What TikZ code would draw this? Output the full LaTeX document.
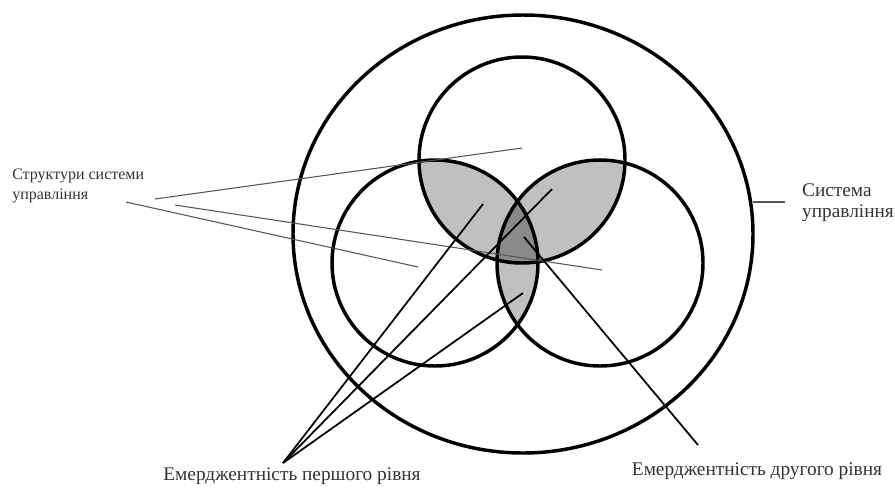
\documentclass[tikz,border=0pt]{standalone}
\usepackage{fontspec}
\setmainfont{Liberation Serif}
\usetikzlibrary{positioning}
\definecolor{linza}{HTML}{C0C0C0}
\definecolor{yadro}{HTML}{8A8A8A}
\definecolor{tonka}{HTML}{555555}
\definecolor{chornyla}{HTML}{333333}
\begin{document}
\begin{tikzpicture}[x=0.75pt,y=-0.75pt,
  kolo/.style={draw=black,line width=2.6pt},
  vyvid/.style={black,line width=1.3pt},
  tonkyi/.style={tonka,line width=0.8pt},
  mala/.style={font=\fontsize{12}{15}\selectfont,text=chornyla,align=left,inner sep=0pt},
  velyka/.style={font=\fontsize{14.5}{16}\selectfont,text=chornyla,align=left,inner sep=0pt}]
\useasboundingbox (0,0) rectangle (895,487);
\coordinate (V) at (522,160);
\coordinate (L) at (435,263);
\coordinate (P) at (600,263);
\begin{scope}
  \clip (V) circle[radius=77.25pt];
  \fill[linza] (L) circle[radius=77.25pt];
  \fill[linza] (P) circle[radius=77.25pt];
\end{scope}
\begin{scope}
  \clip (L) circle[radius=77.25pt];
  \fill[linza] (P) circle[radius=77.25pt];
\end{scope}
\begin{scope}
  \clip (V) circle[radius=77.25pt];
  \clip (L) circle[radius=77.25pt];
  \fill[yadro] (P) circle[radius=77.25pt];
\end{scope}
\draw[kolo] (523,234) ellipse[x radius=172.5pt,y radius=164.25pt];
\foreach \c in {V,L,P}
  \draw[kolo] (\c) circle[radius=77.25pt];
\node[mala,anchor=west] (struktury) at (12,186) {Структури системи\\управління};
\node[velyka] (systema) at (848,203) {Система\\управління};
\node[velyka] (pershyi) at (292,476) {Емерджентність першого рівня};
\node[velyka] (druhyi) at (757,471) {Емерджентність другого рівня};
\coordinate (s1) at (155,199); \coordinate (t1) at (522,148);
\coordinate (s2) at (175,205); \coordinate (t2) at (602,270);
\coordinate (s3) at (126,202); \coordinate (t3) at (418,267);
\coordinate (k1) at (753,202); \coordinate (k2) at (785,202);
\coordinate (e0) at (283,463);
\coordinate (e1) at (483,204); \coordinate (e2) at (552,189); \coordinate (e3) at (523,293);
\coordinate (d0) at (698,445); \coordinate (d1) at (524,237);
\foreach \a/\b in {s1/t1,s2/t2,s3/t3,k1/k2}
  \draw[tonkyi] (\a) -- (\b);
\foreach \b in {e1,e2,e3}
  \draw[vyvid] (e0) -- (\b);
\draw[vyvid] (d0) -- (d1);
\end{tikzpicture}
\end{document}
